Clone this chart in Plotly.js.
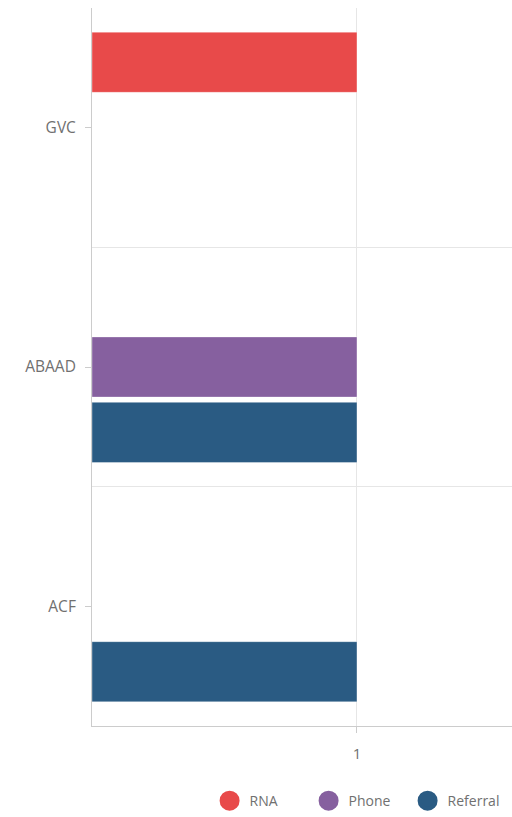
<!DOCTYPE html>
<html>
<head>
<meta charset="utf-8">
<script src="https://cdn.plot.ly/plotly-3.0.1.min.js"></script>
<style>html,body{margin:0;padding:0;background:#fff;}#chart{width:512px;height:817px;}</style>
</head>
<body>
<div id="chart"></div>
<script>
// Data
const categories = ['GVC', 'ABAAD', 'ACF'];
const seriesNames = ['RNA', 'Phone', 'Referral'];
const rnaValues = [1, null, null];
const phoneValues = [null, 1, null];
const referralValues = [null, 1, 1];
const xTickVals = [1];
const xTickText = ['1'];

const colors = ['#e84a4a', '#86609f', '#2a5b83'];
const seriesValues = [rnaValues, phoneValues, referralValues];

const traces = [];
seriesValues.forEach((vals, i) => {
  traces.push({
    type: 'bar',
    orientation: 'h',
    name: seriesNames[i],
    y: categories,
    x: vals,
    marker: {color: colors[i], line: {color: 'rgba(255,255,255,0.35)', width: 1}},
    showlegend: false,
    hoverinfo: 'x+name'
  });
});
// legend-only circle entries
seriesNames.forEach((n, i) => {
  traces.push({
    type: 'scatter',
    mode: 'markers',
    name: n,
    x: [null],
    y: [null],
    yaxis: 'y2',
    marker: {color: colors[i], size: 16, symbol: 'circle', line: {color: colors[i], width: 4}},
    hoverinfo: 'skip'
  });
});

const layout = {
  width: 512,
  height: 817,
  margin: {l: 92, r: 0, t: 8, b: 91, autoexpand: false},
  paper_bgcolor: '#fff',
  plot_bgcolor: '#fff',
  font: {family: 'Open Sans, sans-serif', color: '#707070', size: 12},
  barmode: 'group',
  bargap: 0.18,
  bargroupgap: 0.08,
  showlegend: true,
  legend: {
    orientation: 'h',
    x: 0.28, xanchor: 'left',
    y: -0.1045, yanchor: 'middle',
    font: {size: 14, color: '#707070'},
    entrywidth: 54,
    entrywidthmode: 'pixels',
    traceorder: 'normal'
  },
  xaxis: {
    range: [0, 1.585],
    tickvals: xTickVals,
    ticktext: xTickText,
    ticks: 'outside', ticklen: 6, tickcolor: '#ccc',
    ticklabelstandoff: 8,
    showgrid: true, gridcolor: '#e6e6e6',
    zeroline: false,
    showline: true, linecolor: '#ccc', linewidth: 1,
    tickfont: {size: 15, color: '#707070'},
    fixedrange: true
  },
  yaxis: {
    type: 'category',
    categoryorder: 'array',
    categoryarray: categories,
    autorange: 'reversed',
    ticks: 'outside', ticklen: 6, tickcolor: '#ccc',
    ticklabelstandoff: 6,
    showgrid: false,
    showline: true, linecolor: '#ccc', linewidth: 1,
    tickfont: {size: 15.5, color: '#707070'},
    fixedrange: true
  },
  yaxis2: {
    overlaying: 'y',
    type: 'linear',
    range: [2.5, -0.5],
    tick0: 0.5, dtick: 1,
    showgrid: true, gridcolor: '#e6e6e6',
    showticklabels: false, ticks: '',
    zeroline: false, showline: false,
    fixedrange: true
  }
};

Plotly.newPlot('chart', traces, layout, {displayModeBar: false, staticPlot: true});
</script>
</body>
</html>
